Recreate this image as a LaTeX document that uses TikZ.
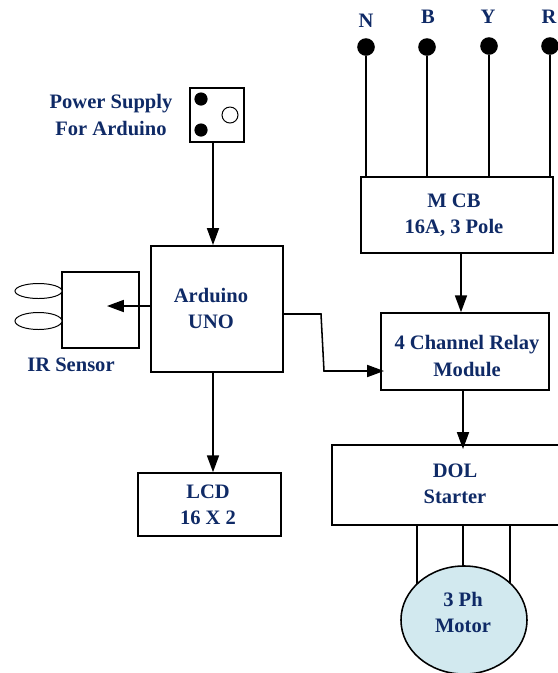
\documentclass[tikz,border=0pt]{standalone}
\usepackage{fontspec}
\setmainfont{Liberation Serif}
\usetikzlibrary{arrows.meta,shapes.geometric}
\definecolor{labelblue}{HTML}{0F2A66}
\definecolor{motorblue}{HTML}{D2E9EF}
\tikzset{
  block/.style={draw, line width=1.1pt, rectangle, inner sep=0pt},
  label/.style={text=labelblue, font=\fontsize{14.6}{18.5}\selectfont\bfseries, align=center, inner sep=0pt},
  terminal/.style={circle, fill=black, inner sep=0pt, minimum size=0.44cm},
  lobe/.style={draw, line width=0.7pt, ellipse, fill=white, inner sep=0pt, minimum width=1.175cm},
  wire/.style={line width=1.1pt},
  arrow/.style={line width=1.1pt, -{Triangle[length=0.42cm, width=0.3cm]}}
}
\begin{document}
\begin{tikzpicture}[x=0.025cm, y=-0.025cm]
\useasboundingbox (0, 0) rectangle (558, 673);
% supply lines
\node[terminal] (N) at (366, 47) {};
\node[terminal] (B) at (427, 47) {};
\node[terminal] (Y) at (489, 46) {};
\node[terminal] (R) at (550, 46) {};
\node[label] (LabN) at (366, 21) {N};
\node[label] (LabB) at (428, 17) {B};
\node[label] (LabY) at (488, 17) {Y};
\node[label] (LabR) at (549, 17) {R};
% blocks
\node[block, minimum width=1.35cm, minimum height=1.35cm] (Power) at (217, 115) {};
\node[block, minimum width=3.3cm, minimum height=3.15cm] (Arduino) at (217, 309) {};
\node[block, minimum width=1.925cm, minimum height=1.9cm] (IR) at (100.5, 310) {};
\node[block, minimum width=4.8cm, minimum height=1.9cm] (MCB) at (457, 215) {};
\node[block, minimum width=4.2cm, minimum height=1.925cm] (Relay) at (465, 351.5) {};
\node[block, minimum width=6.1cm, minimum height=2cm] (DOL) at (454, 485) {};
\node[block, minimum width=3.575cm, minimum height=1.575cm] (LCD) at (209.5, 504.5) {};
% power plug
\node[terminal, minimum size=0.33cm] (PinA) at (201, 99) {};
\node[terminal, minimum size=0.33cm] (PinB) at (201, 130) {};
\node[draw, circle, line width=0.7pt, inner sep=0pt, minimum size=0.4cm] (PinC) at (230, 115) {};
% sensor lobes
\node[lobe, minimum height=0.375cm] (LobeA) at (38.5, 291) {};
\node[lobe, minimum height=0.425cm] (LobeB) at (38.5, 321) {};
% helper points
\coordinate (ArdTop) at (213, 245);
\coordinate (IRTip) at (107, 306);
\coordinate (BendA) at (321, 314);
\coordinate (BendB) at (324, 371);
\coordinate (RelayIn) at (384, 371);
\coordinate (McbOut) at (461, 253);
\coordinate (RelayOut) at (463, 390);
\coordinate (DolIn) at (463, 449);
\coordinate (DolLeft) at (417, 525);
\coordinate (DolRight) at (510, 525);
\coordinate (DolMid) at (463, 525);
% connectors
\draw[wire] (N) -- (N |- MCB.north);
\draw[wire] (B) -- (B |- MCB.north);
\draw[wire] (Y) -- (Y |- MCB.north);
\draw[wire] (R) -- (R |- MCB.north);
\draw[arrow] (ArdTop |- Power.south) -- (ArdTop);
\draw[arrow] (Arduino.west |- IRTip) -- (IRTip);
\draw[arrow] (ArdTop |- Arduino.south) -- (ArdTop |- LCD.north);
\draw[arrow] (Arduino.east |- BendA) -- (BendA) -- (BendB) -- (RelayIn);
\draw[arrow] (McbOut) -- (McbOut |- Relay.north);
\draw[arrow] (RelayOut) -- (DolIn);
\draw[wire] (DolLeft) -- ++(0, 65);
\draw[wire] (DolRight) -- ++(0, 65);
\draw[wire] (DolMid) -- ++(0, 50);
% motor on top of its three wires
\node[draw, ellipse, fill=motorblue, line width=1.1pt, inner sep=0pt, minimum width=3.15cm, minimum height=2.7cm] (Motor) at (464, 620) {};
% texts
\node[label] (LabPower) at (111, 115) {Power Supply\\For Arduino};
\node[label] (LabArduino) at (211, 308) {Arduino\\UNO};
\node[label] (LabIR) at (71, 365) {IR Sensor};
\node[label] (LabMCB) at (454, 215) {M CB\\16A, 3 Pole};
\node[label] (LabRelay) at (467, 356) {4 Channel Relay\\Module};
\node[label] (LabDOL) at (455, 484) {DOL\\Starter};
\node[label] (LabLCD) at (208, 505) {LCD\\16 X 2};
\node[label] (LabMotor) at (463, 612) {3 Ph\\Motor};
\end{tikzpicture}
\end{document}
